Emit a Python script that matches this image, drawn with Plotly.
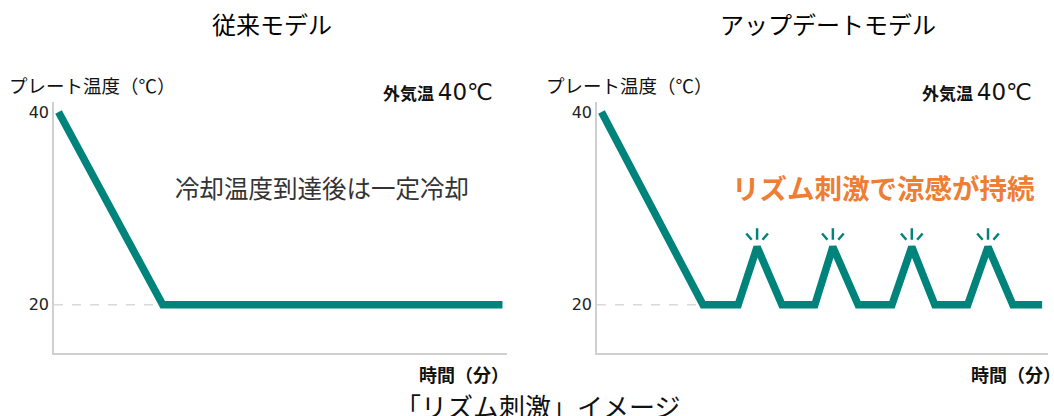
import plotly.graph_objects as go

# ---- data ----
left_time = [1, 24, 99]
left_temp = [40, 20, 20]
right_time = [1, 23.5, 31.3, 35.5, 41, 48.3, 52.3, 57.9, 65.4, 69.8, 74.9, 82.2, 86.7, 92.2, 98.7]
right_temp = [40, 20, 20, 26, 20, 20, 26, 20, 20, 26, 20, 20, 26, 20, 20]
y_ticks = [20, 40]
titles = ["従来モデル", "アップデートモデル"]
y_label = "プレート温度（℃）"
x_label = "時間（分）"
outside = "外気温"
outside_temp = "40℃"
note_left = "冷却温度到達後は一定冷却"
note_right = "リズム刺激で涼感が持続"
caption = "「リズム刺激」イメージ"

W, H = 1054, 416
TEAL = "#00837B"
ORANGE = "#EE7E33"
JP = "Noto Sans CJK JP"
NUM = "DejaVu Sans"

def px(x):
    return x / W

def py(y):
    return 1 - y / H

fig = go.Figure()

# dashed reference lines at 20
fig.add_trace(go.Scatter(x=[0, left_time[1]], y=[left_temp[1], left_temp[1]], mode="lines",
                         line=dict(color="#d9d9d9", width=1.5, dash="dash"),
                         xaxis="x", yaxis="y", hoverinfo="skip", showlegend=False))
fig.add_trace(go.Scatter(x=[0, right_time[1]], y=[right_temp[1], right_temp[1]], mode="lines",
                         line=dict(color="#d9d9d9", width=1.5, dash="dash"),
                         xaxis="x2", yaxis="y2", hoverinfo="skip", showlegend=False))

fig.add_trace(go.Scatter(x=left_time, y=left_temp, mode="lines",
                         line=dict(color=TEAL, width=7.5), xaxis="x", yaxis="y", showlegend=False))
fig.add_trace(go.Scatter(x=right_time, y=right_temp, mode="lines",
                         line=dict(color=TEAL, width=7.5), xaxis="x2", yaxis="y2", showlegend=False))

# sparkles above the rhythm peaks (local maxima inside the series)
shapes = []
for i in range(1, len(right_time) - 1):
    t, v = right_time[i], right_temp[i]
    if v > right_temp[i - 1] and v > right_temp[i + 1]:
        seg = [((t, v + 0.75), (t, v + 1.95)),
               ((t - 2.4, v + 1.4), (t - 1.2, v + 0.75)),
               ((t + 2.4, v + 1.4), (t + 1.2, v + 0.75))]
        for (x0, y0), (x1, y1) in seg:
            shapes.append(dict(type="line", xref="x2", yref="y2", x0=x0, y0=y0, x1=x1, y1=y1,
                               line=dict(color=TEAL, width=2.5)))

ydom = [py(353), py(102.35)]
axis_common = dict(showgrid=False, zeroline=False, showline=True, linecolor="#d0d0d0", linewidth=1.5, ticks="")
yaxis_common = dict(axis_common, range=[15, 41], tickvals=y_ticks, ticktext=[str(v) for v in y_ticks],
                    tickfont=dict(family=NUM, size=16, color="#222"))

fig.update_layout(
    width=W, height=H, margin=dict(l=0, r=0, t=0, b=0),
    paper_bgcolor="white", plot_bgcolor="white",
    xaxis=dict(axis_common, domain=[px(54), px(507)], range=[0, 100], showticklabels=False),
    yaxis=dict(yaxis_common, domain=ydom, anchor="x"),
    xaxis2=dict(axis_common, domain=[px(597), px(1048)], range=[0, 100], showticklabels=False, anchor="y2"),
    yaxis2=dict(yaxis_common, domain=ydom, anchor="x2"),
    shapes=shapes,
)

ann = []
def add(text, x, y, size, color="#222", family=JP, xanchor="center"):
    ann.append(dict(text=text, x=px(x), y=py(y), xref="paper", yref="paper", showarrow=False,
                    xanchor=xanchor, yanchor="middle", font=dict(family=family, size=size, color=color)))

add(titles[0], 272, 23, 24, "#000")
add(titles[1], 828, 23, 24, "#000")
for x0 in (7, 544):
    add(y_label, x0, 85, 18.5, "#111", xanchor="left")
for xr in (495, 1034):
    add(f"<b>{outside}</b> <span style='font-family:{NUM};font-size:23px'>{outside_temp}</span>",
        xr, 92, 17, "#111", xanchor="right")
for xr in (511, 1063):
    add(f"<b>{x_label}</b>", xr, 374, 18, "#111", xanchor="right")
add(note_left, 322, 188, 24.5, "#333")
add(f"<b>{note_right}</b>", 883, 187, 27.5, ORANGE)
add(caption, 538, 405, 26, "#111")

fig.update_layout(annotations=ann)
fig.write_html("out.html", config={"displayModeBar": False},
               post_script="document.body.style.margin='0';document.body.style.overflow='hidden';")
